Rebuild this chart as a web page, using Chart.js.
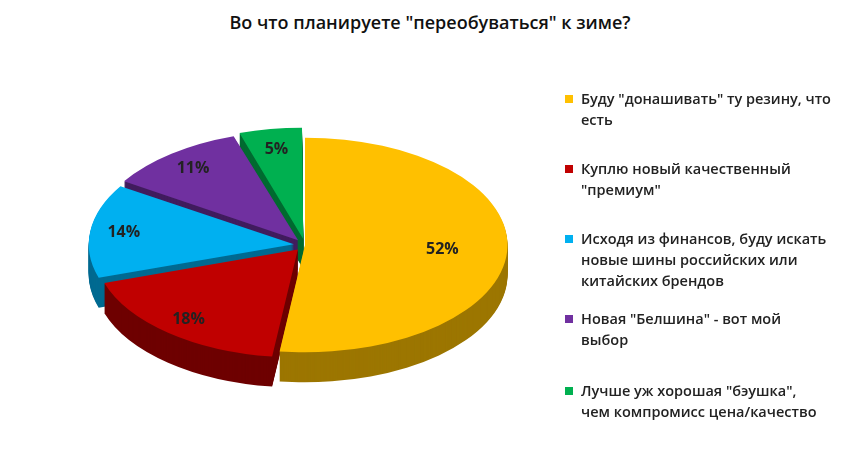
<!DOCTYPE html><html><head><meta charset="utf-8">
<script src="https://cdn.jsdelivr.net/npm/chart.js@4"></script>
<style>
body{margin:0;width:860px;height:457px;background:#fff;font-family:"Open Sans",sans-serif;position:relative;overflow:hidden}
#title{position:absolute;top:10px;left:0;width:860px;text-align:center;font-size:18px;font-weight:600;color:#111}
#wrap{position:absolute;left:0;top:20px;width:570px;height:450px}
#legend{position:absolute;left:565px;top:88px;width:290px}
.it{position:relative;padding-left:16px;font-size:14.5px;font-weight:600;color:#222;line-height:21px;height:74px}
.sq{position:absolute;left:0;top:7px;width:8px;height:8px}
</style></head><body>
<div id="title">Во что планируете "переобуваться" к зиме?</div>
<div id="wrap"><canvas id="c"></canvas></div>
<div id="legend"></div>
<script>
const categories=['Буду "донашивать" ту резину, что есть','Куплю новый качественный "премиум"','Исходя из финансов, буду искать новые шины российских или китайских брендов','Новая "Белшина" - вот мой выбор','Лучше уж хорошая "бэушка", чем компромисс цена/качество'];
const legendLines=[['Буду "донашивать" ту резину, что','есть'],['Куплю новый качественный','"премиум"'],['Исходя из финансов, буду искать','новые шины российских или','китайских брендов'],['Новая "Белшина" - вот мой','выбор'],['Лучше уж хорошая "бэушка",','чем компромисс цена/качество']];
const values=[52,18,14,11,5];
const colors=['#FFC000','#C00000','#00B0F0','#7030A0','#00B050'];
const darks=['#9C7600','#6E0000','#006A91','#411C5E','#006A30'];
const lg=document.getElementById('legend');
legendLines.forEach((l,i)=>{const d=document.createElement('div');d.className='it';d.style.height=(i==2?80:i==3?72:70)+'px';d.innerHTML='<span class="sq" style="background:'+colors[i]+'"></span>'+l.join('<br>');lg.appendChild(d);});
const SY=0.53,DEPTH=30;
const tilt={id:'tilt',
beforeDatasetsDraw(ch){const ctx=ch.ctx;const m=ch.getDatasetMeta(0);const a=m.data[0];const cx=a.x,cy=a.y;
 for(let d=DEPTH;d>0;d-=1){ctx.save();ctx.translate(0,d);ctx.translate(cx,cy);ctx.scale(1,SY);ctx.translate(-cx,-cy);
  m.data.forEach((el,i)=>{const o=el.options.backgroundColor;el.options.backgroundColor=darks[i];el.options.borderWidth=0;el.draw(ctx);el.options.backgroundColor=o;});ctx.restore();}
 ctx.save();ctx.translate(cx,cy);ctx.scale(1,SY);ctx.translate(-cx,-cy);},
afterDatasetsDraw(ch){const ctx=ch.ctx;ctx.restore();const m=ch.getDatasetMeta(0);
 ctx.save();ctx.font='bold 16px "Open Sans",sans-serif';ctx.fillStyle='#222';ctx.textAlign='center';ctx.textBaseline='middle';
 m.data.forEach((el,i)=>{const p=el.getProps(['x','y','startAngle','endAngle','outerRadius']);const mid=(p.startAngle+p.endAngle)/2;
  const off=el.options.offset||0;const r=p.outerRadius*0.68+off;const x=p.x+Math.cos(mid)*r;const y=p.y+(Math.sin(mid)*r)*SY;
  ctx.fillText(values[i]+'%',x,y);});ctx.restore();}};
new Chart(document.getElementById('c'),{type:'pie',data:{labels:categories,datasets:[{data:values,backgroundColor:colors,borderWidth:0,offset:[0,45,45,45,45]}]},
options:{responsive:true,maintainAspectRatio:false,animation:false,layout:{padding:{left:40,right:0,top:0,bottom:0}},plugins:{legend:{display:false},tooltip:{enabled:false}}},plugins:[tilt]});
</script></body></html>
